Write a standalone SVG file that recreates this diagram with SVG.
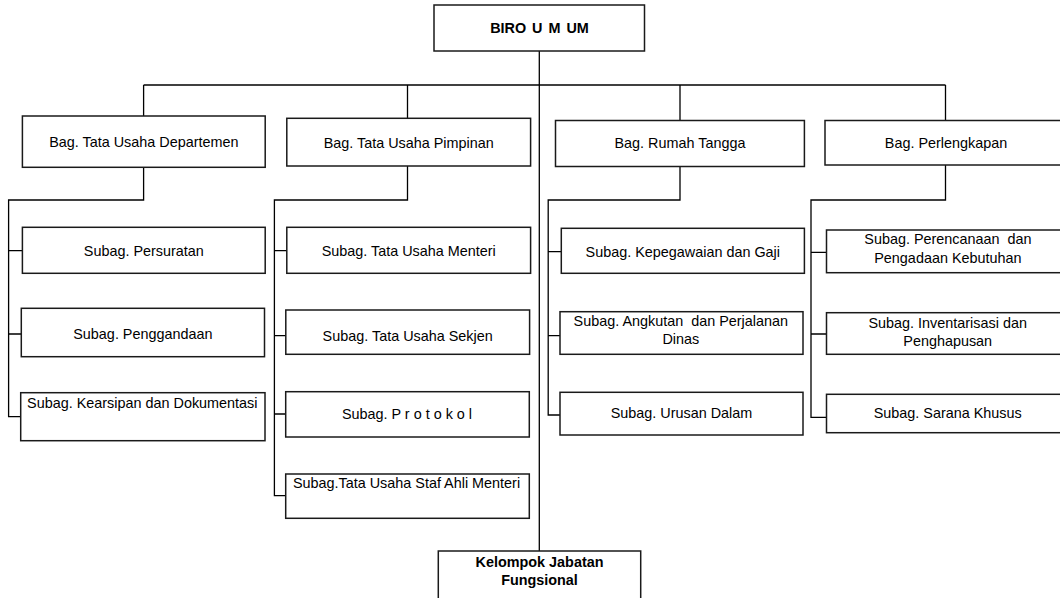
<svg xmlns="http://www.w3.org/2000/svg" width="1060" height="598" viewBox="0 0 1060 598">
<style>
.box{fill:#fff;stroke:#1a1a1a;stroke-width:1.5}
.ln{fill:none;stroke:#000;stroke-width:1.3}
.t{font-family:"Liberation Sans",Arial,sans-serif;font-size:14.4px;fill:#000;text-anchor:middle}
.b{font-weight:bold}
</style>
<rect width="1060" height="598" fill="#fff"/>
<g id="connectors">
<path class="ln" d="M539.3 51 V551"/>
<path class="ln" d="M143.6 85 H945.5"/>
<path class="ln" d="M143.6 85 V116 M407.5 85 V118.3 M680 85 V120.5 M945.5 85 V120.5"/>
<path class="ln" d="M143.6 167.3 V200 H8.6 V416.7 H21 M8.6 250.7 H22 M8.6 334 H21"/>
<path class="ln" d="M407.5 166 V200 H274.4 V495.7 H286 M274.4 250.7 H287 M274.4 335.7 H286 M274.4 414 H286"/>
<path class="ln" d="M680 166.5 V200 H548.2 V415 H560 M548.2 251.7 H561 M548.2 335.7 H560"/>
<path class="ln" d="M945.5 165 V200 H811 V417.3 H826.5 M811 252.3 H826.5 M811 334 H826.5"/>
</g>
<g id="biro-umum">
<rect class="box" x="434" y="5" width="210.5" height="46"/>
<text class="t b" x="539.5" y="33" font-size="16" word-spacing="2">BIRO U M UM</text>
</g>
<g id="bag-tu-departemen">
<rect class="box" x="22.4" y="116" width="242.8" height="51.3"/>
<text class="t" x="143.8" y="146.7">Bag. Tata Usaha Departemen</text>
</g>
<g id="bag-tu-pimpinan">
<rect class="box" x="286.8" y="118.3" width="243.8" height="47.7"/>
<text class="t" x="408.7" y="147.7">Bag. Tata Usaha Pimpinan</text>
</g>
<g id="bag-rumah-tangga">
<rect class="box" x="555.5" y="120.5" width="248.9" height="46"/>
<text class="t" x="680" y="148.3">Bag. Rumah Tangga</text>
</g>
<g id="bag-perlengkapan">
<rect class="box" x="825" y="120.5" width="243" height="44.5"/>
<text class="t" x="946" y="147.7">Bag. Perlengkapan</text>
</g>
<g id="subag-persuratan">
<rect class="box" x="22.4" y="227.3" width="242.8" height="46"/>
<text class="t" x="143.8" y="255.7">Subag. Persuratan</text>
</g>
<g id="subag-penggandaan">
<rect class="box" x="21.3" y="308.3" width="243.2" height="48.4"/>
<text class="t" x="142.9" y="339">Subag. Penggandaan</text>
</g>
<g id="subag-kearsipan">
<rect class="box" x="20.7" y="392.7" width="244.3" height="48"/>
<text class="t" x="142.3" y="407.7">Subag. Kearsipan dan Dokumentasi</text>
</g>
<g id="subag-tu-menteri">
<rect class="box" x="286.8" y="227.3" width="243.8" height="46"/>
<text class="t" x="408.7" y="255.7">Subag. Tata Usaha Menteri</text>
</g>
<g id="subag-tu-sekjen">
<rect class="box" x="285.8" y="310" width="243.8" height="44.3"/>
<text class="t" x="407.7" y="340.7">Subag. Tata Usaha Sekjen</text>
</g>
<g id="subag-protokol">
<rect class="box" x="285.7" y="391.7" width="243.6" height="45.3"/>
<text class="t" x="407" y="419">Subag. P r o t o k o l</text>
</g>
<g id="subag-tu-staf-ahli">
<rect class="box" x="285.7" y="474" width="243.6" height="44.3"/>
<text class="t" x="406.5" y="488.3">Subag.Tata Usaha Staf Ahli Menteri</text>
</g>
<g id="subag-kepegawaian">
<rect class="box" x="561.3" y="228.3" width="243.1" height="45"/>
<text class="t" x="682.8" y="256.7">Subag. Kepegawaian dan Gaji</text>
</g>
<g id="subag-angkutan">
<rect class="box" x="560" y="311.7" width="243" height="42.6"/>
<text class="t" x="680.8" y="325.7" xml:space="preserve">Subag. Angkutan  dan Perjalanan</text>
<text class="t" x="680.8" y="343.5">Dinas</text>
</g>
<g id="subag-urusan-dalam">
<rect class="box" x="560" y="392.3" width="243" height="42.7"/>
<text class="t" x="681.5" y="418.3">Subag. Urusan Dalam</text>
</g>
<g id="subag-perencanaan">
<rect class="box" x="826.5" y="230" width="243" height="42.7"/>
<text class="t" x="947.9" y="244.3" xml:space="preserve">Subag. Perencanaan  dan</text>
<text class="t" x="947.9" y="262.7">Pengadaan Kebutuhan</text>
</g>
<g id="subag-inventarisasi">
<rect class="box" x="826.5" y="312.7" width="243" height="41.6"/>
<text class="t" x="947.7" y="327.7">Subag. Inventarisasi dan</text>
<text class="t" x="947.7" y="345.7">Penghapusan</text>
</g>
<g id="subag-sarana-khusus">
<rect class="box" x="826.5" y="394.3" width="243" height="38.4"/>
<text class="t" x="947.7" y="418.3">Subag. Sarana Khusus</text>
</g>
<g id="kelompok-jabatan-fungsional">
<rect class="box" x="438.3" y="551" width="202.4" height="70"/>
<text class="t b" x="539.5" y="566.7" font-size="14.2">Kelompok Jabatan</text>
<text class="t b" x="539.5" y="585.3" font-size="14.2">Fungsional</text>
</g>
</svg>
